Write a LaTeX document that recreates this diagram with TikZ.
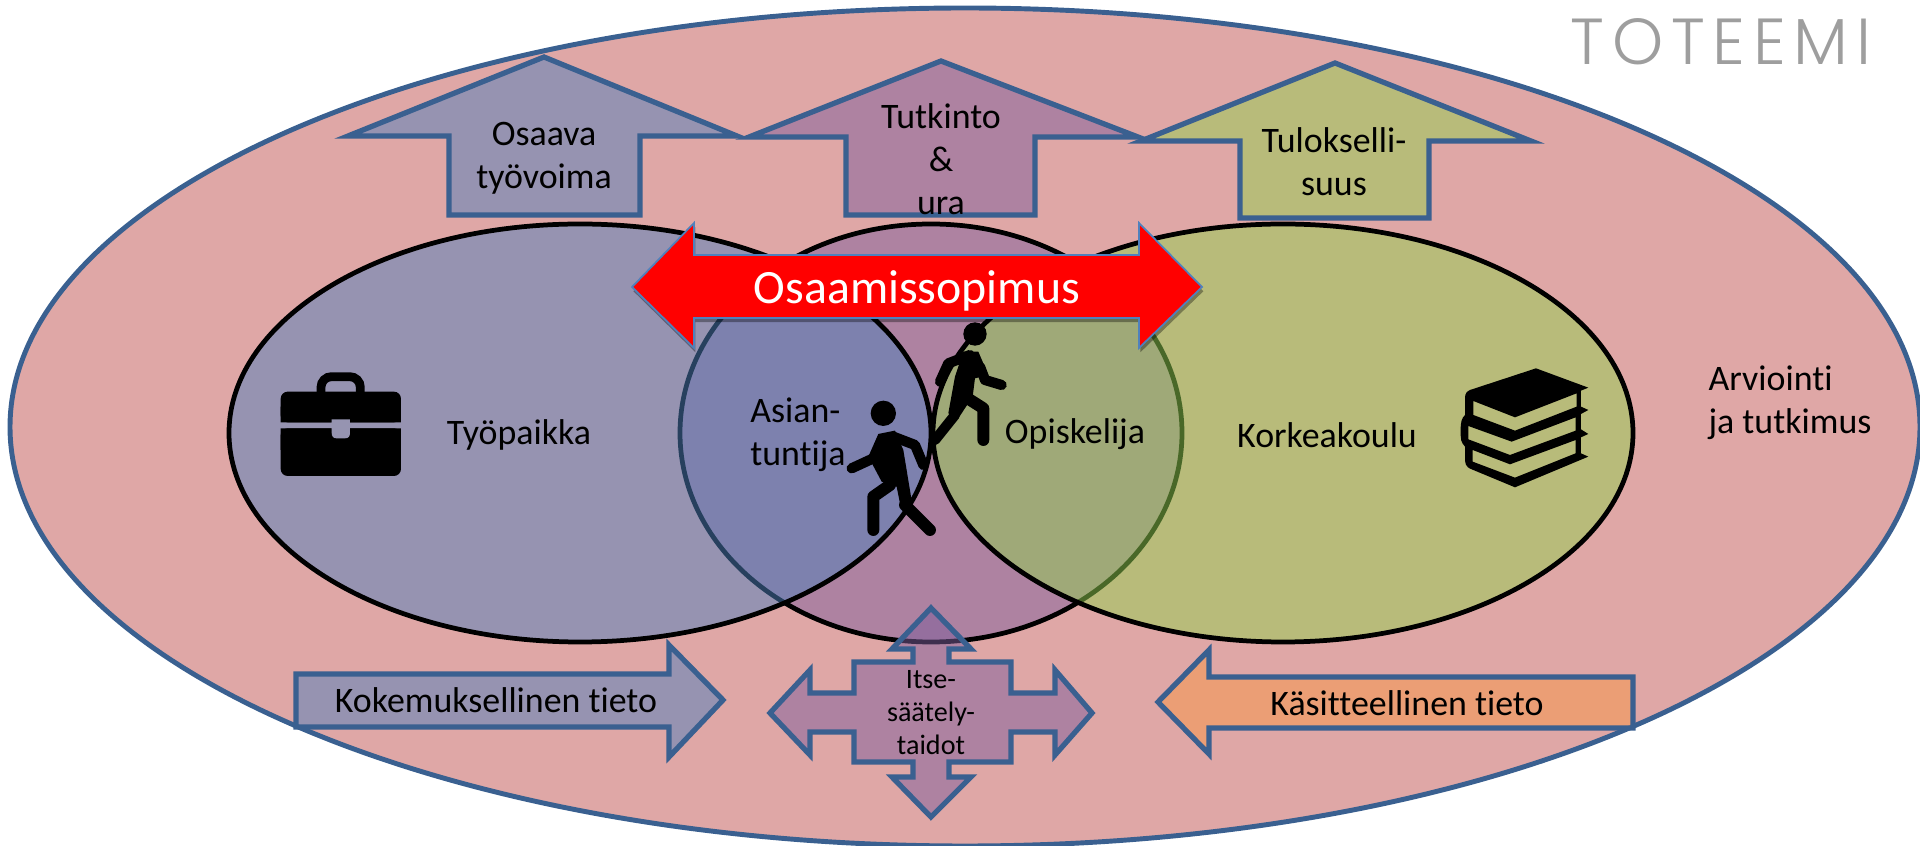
\documentclass[tikz,border=0pt]{standalone}
\usepackage{fontspec}
\setmainfont[Ligatures=NoCommon]{Carlito}
\newfontfamily\logofont[LetterSpace=12]{Poppins Light}
\usetikzlibrary{shadows}
\definecolor{rimblue}{HTML}{3A6090}
\definecolor{arrowrim}{HTML}{4F81BD}
\definecolor{outerred}{HTML}{C0504D}
\definecolor{workblue}{HTML}{4E81BD}
\definecolor{midpurple}{HTML}{7D5E9D}
\definecolor{schoolgreen}{HTML}{92D050}
\definecolor{theoryorange}{HTML}{F79646}
\definecolor{casehole}{HTML}{9694B1}
\tikzset{
  blob/.style={draw=black,line width=1.35pt,fill opacity=.5},
  bigarrow/.style={draw=rimblue,line width=1.5pt,fill opacity=.5,line join=miter},
  lbl/.style={font=\fontsize{10.2}{12.2}\selectfont,align=center,inner sep=0pt},
  smalllbl/.style={font=\fontsize{8}{9.4}\selectfont,align=center,inner sep=0pt},
  limb/.style={draw=black,line cap=round,line join=round},
}
\begin{document}
\begin{tikzpicture}[x=0.01cm,y=-0.01cm]
  \useasboundingbox (0,0) rectangle (1920,846);
  % outer ellipse
  \draw[draw=rimblue,line width=1.4pt,fill=outerred,fill opacity=.5] (965,427) ellipse (955 and 419);
  % top arrows
  \draw[bigarrow,fill=workblue] (544,57) -- (737,136) -- (640,136) -- (640,215) -- (449,215) -- (449,136) -- (348,136) -- cycle;
  \draw[bigarrow,fill=midpurple] (941,61) -- (1138,137) -- (1035,137) -- (1035,215) -- (846,215) -- (846,137) -- (749,137) -- cycle;
  \draw[bigarrow,fill=schoolgreen] (1335,63) -- (1531,141) -- (1429,141) -- (1429,218) -- (1240,218) -- (1240,141) -- (1141,141) -- cycle;
  % three ellipses
  \draw[blob,fill=midpurple] (931,433) ellipse (251 and 209);
  \draw[blob,fill=workblue] (580,433) ellipse (351 and 209);
  \draw[blob,fill=schoolgreen] (1283,433) ellipse (350 and 209);
  % bottom arrows
  \draw[bigarrow,fill=workblue] (296,674) -- (669,674) -- (669,645) -- (723,700) -- (669,757) -- (669,727) -- (296,727) -- cycle;
  \draw[bigarrow,fill=theoryorange] (1633,677) -- (1209,677) -- (1209,650) -- (1158,702) -- (1209,754) -- (1209,728) -- (1633,728) -- cycle;
  \draw[bigarrow,fill=midpurple] (931,608) -- (971,649) -- (949,649) -- (949,662) -- (1011,662) -- (1011,693) -- (1055,693) -- (1055,670)
    -- (1092,713) -- (1055,755) -- (1055,732) -- (1011,732) -- (1011,762) -- (949,762) -- (949,777) -- (971,777) -- (931,817)
    -- (892,777) -- (913,777) -- (913,762) -- (854,762) -- (854,732) -- (810,732) -- (810,755) -- (770,713) -- (810,670)
    -- (810,693) -- (854,693) -- (854,662) -- (913,662) -- (913,649) -- (892,649) -- cycle;
  % red arrow
  \draw[draw=arrowrim,line width=.5pt,fill=red,general shadow={fill=black,opacity=.35,shadow xshift=.4pt,shadow yshift=-1.2pt}]
    (632,287) -- (694,223) -- (694,255) -- (1139,255) -- (1139,223) -- (1202,287) -- (1139,348) -- (1139,318) -- (694,318) -- (694,348) -- cycle;
  % briefcase
  \begin{scope}[shift={(250,340)},scale=0.3333]
    \draw[black,line width=2.5pt,rounded corners=3pt] (213,160) -- (213,110) -- (331,110) -- (331,160);
    \fill[black,rounded corners=2pt] (92,155) rectangle (453,247);
    \fill[black,rounded corners=2pt] (92,265) rectangle (453,408);
    \fill[black] (92,200) rectangle (245,247) (300,200) rectangle (453,247) (92,265) rectangle (245,330) (300,265) rectangle (453,330);
    \fill[casehole] (245,238) -- (300,238) -- (300,278) .. controls (300,290) and (295,295) .. (285,295) -- (260,295) .. controls (250,295) and (245,290) .. (245,278) -- cycle;
  \end{scope}
  % books
  \begin{scope}[shift={(1430,340)},scale=0.3333]
    \fill[black,even odd rule] (318,85) -- (475,143) -- (453,152) -- (453,200) -- (475,210) -- (453,222) -- (453,268) -- (475,282)
      -- (453,292) -- (453,340) -- (475,350) -- (255,442) -- (125,388) .. controls (105,380) and (105,370) .. (105,350) -- (105,320)
      .. controls (92,305) and (92,300) .. (92,270) .. controls (92,245) and (95,235) .. (105,225) -- (105,175) .. controls (105,160) and (110,155) .. (120,150) -- cycle
      (130,183) -- (255,232) -- (440,160) -- (440,200) -- (255,272) -- (130,225) -- cycle
      (115,258) -- (245,305) -- (437,232) -- (437,272) -- (240,345) -- (115,298) -- cycle
      (128,330) -- (240,373) -- (437,300) -- (437,340) -- (255,413) -- (128,365) -- cycle;
  \end{scope}
  % the two walkers
  \begin{scope}[shift={(840,310)},scale=0.3333]
    \fill (130,310) circle (38);
    \fill[line join=round] (115,372) -- (165,362) -- (190,420) -- (218,590) -- (182,590) -- (170,530) -- (125,515) -- (85,440) -- cycle;
    \draw[limb,line width=2.9pt] (100,445) -- (35,475);
    \draw[limb,line width=2.9pt] (160,380) -- (225,405) -- (250,465);
    \draw[limb,line width=3.4pt] (150,525) -- (100,560) -- (100,660);
    \draw[limb,line width=3.4pt] (195,585) -- (270,660);
    \fill (405,72) circle (35);
    \fill (370,125) -- (415,125) -- (445,195) -- (405,205) -- (398,260) -- (355,325) -- (325,310) -- (345,200) -- cycle;
    \draw[limb,line width=2.9pt] (390,135) -- (325,160) -- (300,215);
    \draw[limb,line width=2.9pt] (420,170) -- (435,210) -- (485,225);
    \draw[limb,line width=2.9pt] (345,315) -- (285,390);
    \draw[limb,line width=3.4pt] (375,260) -- (430,295) -- (430,390);
  \end{scope}
  % labels
  \node[lbl] (osaava) at (544,158) {Osaava\\työvoima};
  \node[lbl] (tutkinto) at (941,159) {Tutkinto\\[0pt]\&\\ura};
  \node[lbl] (tulos) at (1334,162) {Tulokselli-\\suus};
  \node[font=\fontsize{13.6}{16}\selectfont,text=white,inner sep=0pt] (sopimus) at (917,291) {Osaamissopimus};
  \node[lbl] (tyopaikka) at (519,435) {Työpaikka};
  \node[lbl,align=left] (asiantuntija) at (798,435) {Asian-\\tuntija};
  \node[lbl] (opiskelija) at (1075,434) {Opiskelija};
  \node[lbl] (korkeakoulu) at (1327,435) {Korkeakoulu};
  \node[lbl,align=left] (arviointi) at (1790,403) {Arviointi\\ja tutkimus};
  \node[lbl] (kokemus) at (496,700) {Kokemuksellinen tieto};
  \node[lbl] (kasite) at (1407,703) {Käsitteellinen tieto};
  \node[smalllbl] (itse) at (931,713) {Itse-\\säätely-\\taidot};
  \node[font=\logofont\fontsize{18.5}{18.5}\selectfont,text=black!38,inner sep=0pt] (toteemi) at (1721,42) {TOTEEMI};
\end{tikzpicture}
\end{document}
